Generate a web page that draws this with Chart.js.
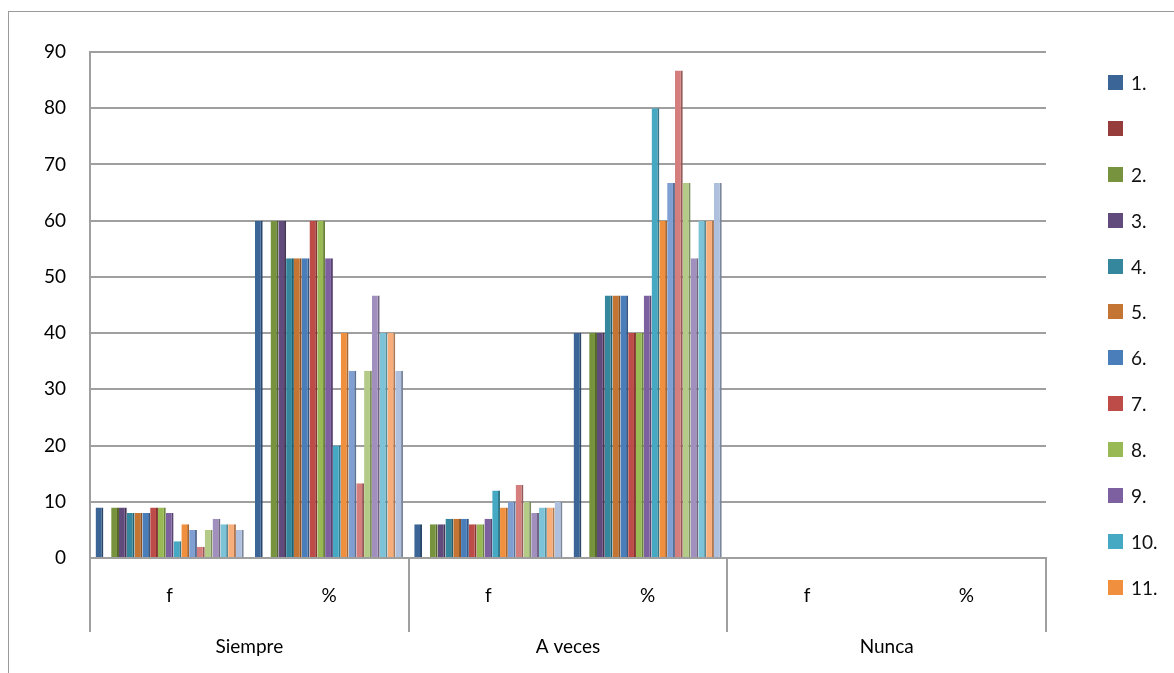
<!DOCTYPE html>
<html>
<head>
<meta charset="utf-8">
<script src="https://cdn.jsdelivr.net/npm/chart.js@4"></script>
<style>
  body { margin: 0; background: #fff; font-family: Lato, "Noto Sans", sans-serif; }
  #wrap { position: relative; width: 1174px; height: 673px; overflow: hidden; }
  #frame { position: absolute; left: 8px; top: 11px; width: 1200px; height: 700px; border: 1px solid #9a9a9a; }
  #chart { position: absolute; left: 0; top: 0; }
  #legend { position: absolute; left: 1108px; top: 71px; }
  .item { height: 45.9px; display: flex; align-items: flex-start; font-size: 19px; line-height: 24px; color: #111; }
  .box { width: 15px; height: 15px; margin: 4px 8px 0 0; }
</style>
</head>
<body>
<div id="wrap">
  <div id="frame"></div>
  <canvas id="chart" width="1174" height="673"></canvas>
  <div id="legend"></div>
</div>
<script>
var categories = ["f", "%", "f", "%", "f", "%"];
var groups = ["Siempre", "A veces", "Nunca"];
var seriesNames = ["1.", "", "2.", "3.", "4.", "5.", "6.", "7.", "8.", "9.", "10.", "11.",
                   "12.", "13.", "14.", "15.", "16.", "17.", "18."];

// one array per category, one value per series
var siempreF = [9, 0, 9, 9, 8, 8, 8, 9, 9, 8, 3, 6, 5, 2, 5, 7, 6, 6, 5];
var siempreP = [60, 0, 60, 60, 53.3, 53.3, 53.3, 60, 60, 53.3, 20, 40, 33.3, 13.3, 33.3, 46.7, 40, 40, 33.3];
var aVecesF = [6, 0, 6, 6, 7, 7, 7, 6, 6, 7, 12, 9, 10, 13, 10, 8, 9, 9, 10];
var aVecesP = [40, 0, 40, 40, 46.7, 46.7, 46.7, 40, 40, 46.7, 80, 60, 66.7, 86.7, 66.7, 53.3, 60, 60, 66.7];
var nuncaF = [0, 0, 0, 0, 0, 0, 0, 0, 0, 0, 0, 0, 0, 0, 0, 0, 0, 0, 0];
var nuncaP = [0, 0, 0, 0, 0, 0, 0, 0, 0, 0, 0, 0, 0, 0, 0, 0, 0, 0, 0];
var yTicks = [0, 10, 20, 30, 40, 50, 60, 70, 80, 90];

var colors = ["#3b6597", "#963c3b", "#78933d", "#614b7c", "#34879d", "#c47433", "#4a7ebb",
              "#bd4b48", "#98b954", "#7d60a0", "#46a9c4", "#f0903f", "#7f9ed2", "#d47f7e",
              "#b3cb86", "#a190bd", "#7cc3d8", "#f8ae7a", "#afc0de"];

function shade(hex, f) {
  var n = parseInt(hex.slice(1), 16);
  var r = Math.round(((n >> 16) & 255) * f);
  var g = Math.round(((n >> 8) & 255) * f);
  var b = Math.round((n & 255) * f);
  return "rgb(" + r + "," + g + "," + b + ")";
}

var columns = [siempreF, siempreP, aVecesF, aVecesP, nuncaF, nuncaP];
var datasets = seriesNames.map(function (name, i) {
  return {
    label: name,
    data: columns.map(function (c) { return c[i]; }),
    backgroundColor: colors[i],
    borderColor: shade(colors[i], 0.7),
    borderWidth: { right: 2 },
    borderSkipped: "start",
    barPercentage: 1,
    categoryPercentage: 0.93
  };
});

var gridGrey = "#9f9f9f";
var font = { family: "Lato, 'Noto Sans', sans-serif", size: 19 };

var chart = new Chart(document.getElementById("chart"), {
  type: "bar",
  data: { labels: categories, datasets: datasets },
  options: {
    responsive: false,
    animation: false,
    layout: { padding: { left: 30, top: 52, right: 128, bottom: 16 } },
    plugins: { legend: { display: false }, tooltip: { enabled: false } },
    scales: {
      y: {
        min: 0, max: 90,
        afterBuildTicks: function (s) { s.ticks = yTicks.map(function (v) { return { value: v }; }); },
        afterFit: function (s) { s.width = 60; },
        grid: { color: gridGrey, lineWidth: 2, drawTicks: false },
        border: { color: gridGrey, width: 2 },
        ticks: { color: "#000", font: font, padding: 24 }
      },
      x: {
        afterFit: function (s) { s.height = 44; },
        grid: {
          offset: true, drawOnChartArea: false, drawTicks: true, tickLength: 74, lineWidth: 2,
          color: function (ctx) {
            return (ctx.index === undefined || ctx.index % 2 === 0) ? gridGrey : "rgba(0,0,0,0)";
          }
        },
        border: { color: gridGrey, width: 2 },
        ticks: { color: "#000", font: font, padding: -48 }
      },
      x2: {
        type: "category",
        labels: groups,
        position: "bottom",
        afterFit: function (s) { s.height = 55; },
        grid: { display: false, drawTicks: false },
        border: { display: false },
        ticks: { color: "#000", font: font, padding: 33 }
      }
    }
  }
});

// legend shows only the first twelve series
var legend = document.getElementById("legend");
chart.data.datasets.slice(0, 12).forEach(function (ds) {
  var row = document.createElement("div");
  row.className = "item";
  var box = document.createElement("span");
  box.className = "box";
  box.style.background = ds.backgroundColor;
  var txt = document.createElement("span");
  txt.textContent = ds.label;
  row.appendChild(box);
  row.appendChild(txt);
  legend.appendChild(row);
});
</script>
</body>
</html>
